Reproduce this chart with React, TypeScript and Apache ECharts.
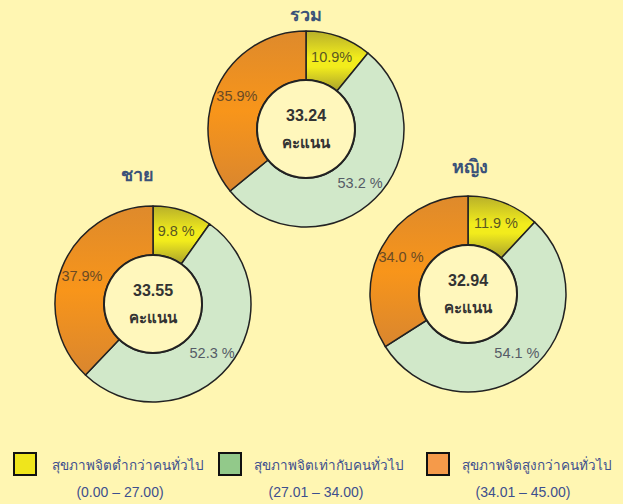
import React, { useEffect, useRef } from "react";
import * as echarts from "echarts";

const groups = ["รวม", "ชาย", "หญิง"];
const scores = ["33.24", "33.55", "32.94"];
const lowValues = [10.9, 9.8, 11.9];
const equalValues = [53.2, 52.3, 54.1];
const highValues = [35.9, 37.9, 34.0];
const lowLabels = ["10.9%", "9.8 %", "11.9 %"];
const equalLabels = ["53.2 %", "52.3 %", "54.1 %"];
const highLabels = ["35.9%", "37.9%", "34.0 %"];
const legendNames = ["สุขภาพจิตต่ำกว่าคนทั่วไป", "สุขภาพจิตเท่ากับคนทั่วไป", "สุขภาพจิตสูงกว่าคนทั่วไป"];
const legendRanges = ["(0.00 – 27.00)", "(27.01 – 34.00)", "(34.01 – 45.00)"];
const scoreUnit = "คะแนน";

const FONT = "Tahoma, 'Liberation Sans', 'DejaVu Sans', sans-serif";
const BG = "#FFF6B2";

const centers: [number, number][] = [[306, 129], [153, 304], [468, 294]];
const titlePos: [number, number][] = [[306, 15], [137, 175], [470, 167]];

const yellowGrad = () =>
  new echarts.graphic.LinearGradient(0, 0, 0, 1, [
    { offset: 0, color: "#B8B02A" },
    { offset: 0.45, color: "#F2EC1C" },
    { offset: 0.6, color: "#F2EC1C" },
    { offset: 1, color: "#A9A12C" },
  ]);
const orangeGrad = () =>
  new echarts.graphic.LinearGradient(0, 0, 0, 1, [
    { offset: 0, color: "#DE8A2C" },
    { offset: 0.5, color: "#F8951A" },
    { offset: 1, color: "#D9862F" },
  ]);

export default function App() {
  const ref = useRef<HTMLDivElement>(null);
  useEffect(() => {
    document.body.style.margin = "0";
    const chart = echarts.init(ref.current!, undefined, { renderer: "svg" });
    const series: any[] = [];
    groups.forEach((g, i) => {
      const slices = [
        { value: lowValues[i], name: legendNames[0], text: lowLabels[i], color: yellowGrad(), labelColor: "#5A5722" },
        { value: equalValues[i], name: legendNames[1], text: equalLabels[i], color: "#D1E8C9", labelColor: "#555B66" },
        { value: highValues[i], name: legendNames[2], text: highLabels[i], color: orangeGrad(), labelColor: "#6A4A24" },
      ];
      series.push({
        type: "pie",
        center: centers[i],
        radius: [49, 98],
        startAngle: 90,
        clockwise: true,
        silent: true,
        avoidLabelOverlap: false,
        itemStyle: { borderColor: "#222", borderWidth: 1.5 },
        label: {
          show: true,
          position: "inside",
          fontFamily: FONT,
          fontSize: 14.5,
        },
        labelLine: { show: false },
        data: slices.map((s) => ({
          value: s.value,
          name: s.name,
          itemStyle: { color: s.color },
          label: { formatter: s.text, color: s.labelColor },
        })),
      });
      series.push({
        type: "pie",
        center: centers[i],
        radius: [0, 49],
        silent: true,
        itemStyle: { color: "#FFF7BC", borderColor: "#222", borderWidth: 2 },
        label: {
          show: true,
          position: "center",
          formatter: "{a|" + scores[i] + "}\n{b|" + scoreUnit + "}",
          rich: {
            a: { fontFamily: FONT, fontSize: 16, fontWeight: "bold", color: "#333", lineHeight: 27 },
            b: { fontFamily: FONT, fontSize: 15, fontWeight: "bold", color: "#333", lineHeight: 27 },
          },
        },
        labelLine: { show: false },
        data: [{ value: 1, name: g }],
      });
    });

    const graphics: any[] = [];
    groups.forEach((g, i) => {
      graphics.push({
        type: "text",
        x: titlePos[i][0],
        y: titlePos[i][1],
        style: { text: g, fontFamily: FONT, fontSize: 18, fontWeight: "bold", fill: "#3B5279", align: "center", verticalAlign: "middle" },
      });
    });
    const boxX = [14, 219, 427];
    const textX = [52, 254, 462];
    const rangeX = [120, 316, 523];
    const boxColors = ["#EFE51C", "#92C98A", "#F59A4A"];
    legendNames.forEach((n, i) => {
      graphics.push({
        type: "rect",
        shape: { x: boxX[i], y: 453, width: 22, height: 22 },
        style: { fill: boxColors[i], stroke: "#111", lineWidth: 2 },
      });
      graphics.push({
        type: "text",
        x: textX[i],
        y: 465,
        style: { text: n, fontFamily: FONT, fontSize: 13.5, fill: "#3D4F8E", align: "left", verticalAlign: "middle" },
      });
      graphics.push({
        type: "text",
        x: rangeX[i],
        y: 492,
        style: { text: legendRanges[i], fontFamily: FONT, fontSize: 14, fill: "#3D4F8E", align: "center", verticalAlign: "middle" },
      });
    });

    chart.setOption({
      animation: false,
      backgroundColor: BG,
      series,
      graphic: graphics,
    });
    return () => chart.dispose();
  }, []);
  return <div ref={ref} style={{ width: 623, height: 504 }} />;
}
